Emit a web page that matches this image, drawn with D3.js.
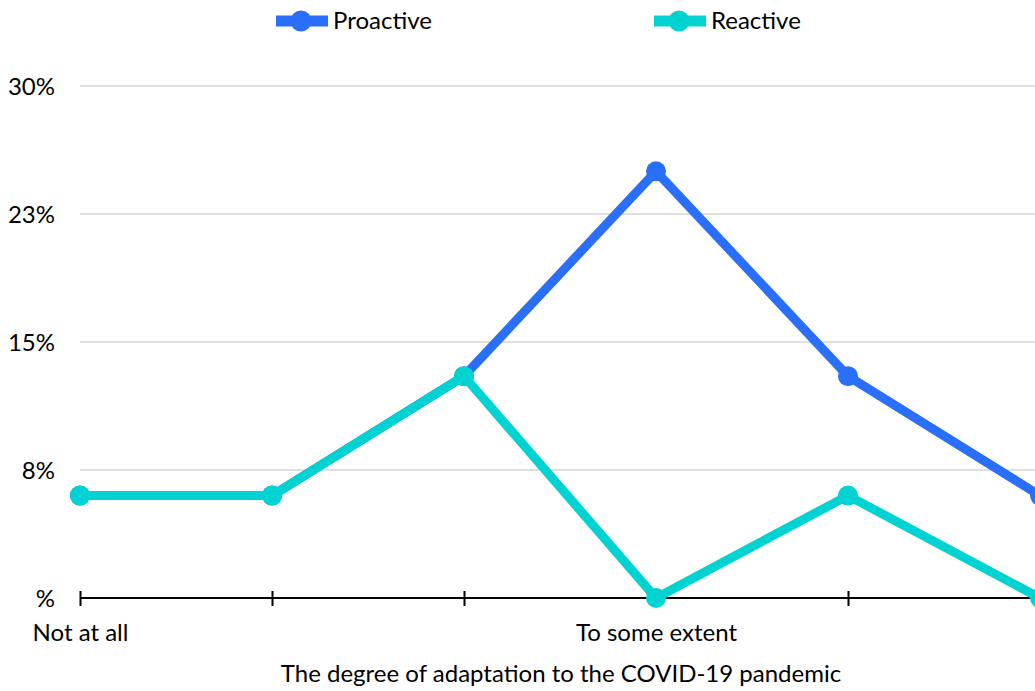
<!DOCTYPE html>
<html>
<head>
<meta charset="utf-8">
<script src="https://cdn.jsdelivr.net/npm/d3@7"></script>
<style>
  html, body { margin: 0; padding: 0; background: #fff; }
  svg { display: block; font-family: Lato, "Open Sans", sans-serif; }
</style>
</head>
<body>
<svg id="chart" width="1035" height="691"></svg>
<script>
// Degree of adaptation categories (only some carry a printed label)
const categories = ["c1", "c2", "c3", "c4", "c5", "c6"];
const tickLabels = ["Not at all", "", "", "To some extent", "", ""];

// Share of respondents, in percent
const proactive = [6, 6, 13, 25, 13, 6];
const reactive  = [6, 6, 13, 0, 6, 0];

const yTicks = [0, 7.5, 15, 22.5, 30];
const yTickLabels = ["%", "8%", "15%", "23%", "30%"];

const seriesNames = ["Proactive", "Reactive"];
const seriesColors = ["#2A6FF9", "#00D3D1"];

const FONT_SIZE = 24;

const svg = d3.select("#chart");

const x = d3.scalePoint().domain(categories).range([80, 1040]);
const y = d3.scaleLinear().domain([0, 30]).range([598, 86]);

// horizontal gridlines
svg.append("g")
  .selectAll("line")
  .data(yTicks.filter(d => d > 0))
  .join("line")
  .attr("x1", 80).attr("x2", 1035)
  .attr("y1", d => y(d)).attr("y2", d => y(d))
  .attr("stroke", "#bfbfbf").attr("stroke-width", 1);

// y axis labels
const yAxis = d3.axisLeft(y)
  .tickValues(yTicks)
  .tickSize(0)
  .tickPadding(0)
  .tickFormat((d, i) => yTickLabels[i]);
const gy = svg.append("g").attr("transform", "translate(55,0)").call(yAxis);
gy.select(".domain").remove();
gy.selectAll("text")
  .attr("font-size", FONT_SIZE)
  .attr("font-family", "Lato, sans-serif")
  .attr("fill", "#000")
  .attr("dy", "0.35em");

// x axis
const xAxis = d3.axisBottom(x)
  .tickSize(0)
  .tickFormat((d, i) => tickLabels[i]);
const gx = svg.append("g").attr("transform", `translate(0,${y(0)})`).call(xAxis);
gx.select(".domain").remove();
gx.append("line")
  .attr("x1", 80).attr("x2", 1035)
  .attr("stroke", "#000").attr("stroke-width", 2);
gx.selectAll(".tick").append("line")
  .attr("y1", -7).attr("y2", 8)
  .attr("stroke", "#000").attr("stroke-width", 2);
gx.selectAll(".tick text")
  .attr("y", 43)
  .attr("dy", 0)
  .attr("font-size", FONT_SIZE)
  .attr("font-family", "Lato, sans-serif")
  .attr("fill", "#000");

// x axis title
svg.append("text")
  .attr("x", 561).attr("y", 682)
  .attr("text-anchor", "middle")
  .attr("font-size", FONT_SIZE)
  .attr("fill", "#000")
  .text("The degree of adaptation to the COVID-19 pandemic");

// series lines and markers
const line = d3.line()
  .x((d, i) => x(categories[i]))
  .y(d => y(d));

[proactive, reactive].forEach((vals, s) => {
  const g = svg.append("g");
  g.append("path")
    .datum(vals)
    .attr("d", line)
    .attr("fill", "none")
    .attr("stroke", seriesColors[s])
    .attr("stroke-width", 9)
    .attr("stroke-linejoin", "round");
  g.selectAll("circle")
    .data(vals)
    .join("circle")
    .attr("cx", (d, i) => x(categories[i]))
    .attr("cy", d => y(d))
    .attr("r", 10)
    .attr("fill", seriesColors[s]);
});

// legend
const legendX = [276, 654];
const legend = svg.append("g");
seriesNames.forEach((name, s) => {
  const lg = legend.append("g").attr("transform", `translate(${legendX[s]},21)`);
  lg.append("rect")
    .attr("x", 0).attr("y", -5.5)
    .attr("width", 52).attr("height", 11)
    .attr("fill", seriesColors[s]);
  lg.append("circle")
    .attr("cx", 25).attr("cy", 0).attr("r", 10.5)
    .attr("fill", seriesColors[s]);
  lg.append("text")
    .attr("x", 57).attr("y", 8)
    .attr("font-size", FONT_SIZE)
    .attr("fill", "#000")
    .text(name);
});
</script>
</body>
</html>
